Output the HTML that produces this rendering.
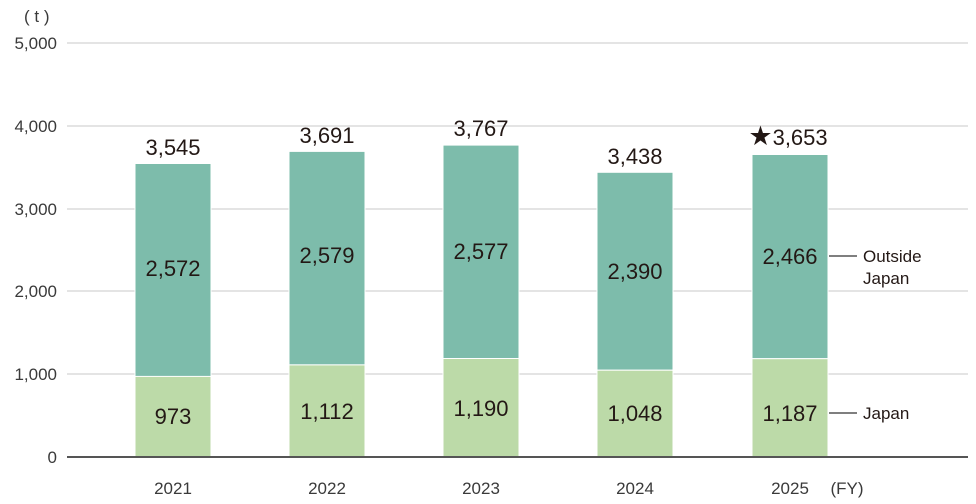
<!DOCTYPE html>
<html><head><meta charset="utf-8"><style>
html,body{margin:0;padding:0;background:#fff;}
svg{display:block;font-family:"Liberation Sans",sans-serif;}
.ax{font-size:17px;fill:#3a3a3a;}
.v{font-size:22px;fill:#231815;text-anchor:middle;}
.lg{font-size:17px;fill:#231815;}
</style></head><body>
<svg width="976" height="504" viewBox="0 0 976 504">
<g stroke="#d4d4d4" stroke-width="1.2">
<line x1="67" y1="43" x2="968" y2="43"/>
<line x1="67" y1="126" x2="968" y2="126"/>
<line x1="67" y1="209" x2="968" y2="209"/>
<line x1="67" y1="291" x2="968" y2="291"/>
<line x1="67" y1="374" x2="968" y2="374"/>
</g>
<text class="ax" x="24" y="22">( t )</text>
<g class="ax" text-anchor="end">
<text x="57" y="49">5,000</text>
<text x="57" y="132">4,000</text>
<text x="57" y="215">3,000</text>
<text x="57" y="297">2,000</text>
<text x="57" y="380">1,000</text>
<text x="57" y="463">0</text>
</g>
<g stroke="#fff" stroke-width="1">
<rect x="135" y="163.5" width="76" height="213" fill="#7dbcab"/>
<rect x="135" y="376.4" width="76" height="80.6" fill="#bcdaa8"/>
<rect x="289" y="151.4" width="76" height="213.5" fill="#7dbcab"/>
<rect x="289" y="364.9" width="76" height="92.1" fill="#bcdaa8"/>
<rect x="443" y="145.1" width="76" height="213.4" fill="#7dbcab"/>
<rect x="443" y="358.5" width="76" height="98.5" fill="#bcdaa8"/>
<rect x="597" y="172.3" width="76" height="197.9" fill="#7dbcab"/>
<rect x="597" y="370.2" width="76" height="86.8" fill="#bcdaa8"/>
<rect x="752" y="154.5" width="76" height="204.2" fill="#7dbcab"/>
<rect x="752" y="358.7" width="76" height="98.3" fill="#bcdaa8"/>
</g>
<line x1="67" y1="457" x2="968" y2="457" stroke="#555" stroke-width="2"/>
<g class="v">
<text x="173" y="155">3,545</text>
<text x="327" y="143">3,691</text>
<text x="481" y="136">3,767</text>
<text x="635" y="164">3,438</text>
<text x="788" y="145"><tspan font-size="27">★</tspan>3,653</text>
<text x="173" y="276">2,572</text>
<text x="327" y="263">2,579</text>
<text x="481" y="259">2,577</text>
<text x="635" y="279">2,390</text>
<text x="790" y="264">2,466</text>
<text x="173" y="424">973</text>
<text x="327" y="419">1,112</text>
<text x="481" y="416">1,190</text>
<text x="635" y="421">1,048</text>
<text x="790" y="421">1,187</text>
</g>
<g stroke="#333" stroke-width="1.2">
<line x1="829" y1="256" x2="857" y2="256"/>
<line x1="829" y1="413" x2="857" y2="413"/>
</g>
<text class="lg" x="863" y="262">Outside</text>
<text class="lg" x="863" y="284">Japan</text>
<text class="lg" x="863" y="419">Japan</text>
<g class="ax" text-anchor="middle">
<text x="173" y="494">2021</text>
<text x="327" y="494">2022</text>
<text x="481" y="494">2023</text>
<text x="635" y="494">2024</text>
<text x="790" y="494">2025</text>
<text x="847" y="494">(FY)</text>
</g>
</svg>
</body></html>
